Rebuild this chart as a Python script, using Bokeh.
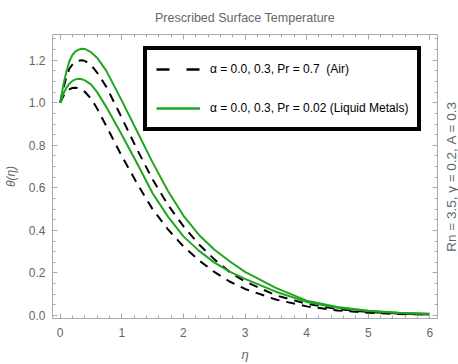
from bokeh.plotting import figure
from bokeh.layouts import row
from bokeh.models import LinearAxis, Legend, LegendItem, Range1d, FixedTicker, PrintfTickFormatter
from bokeh.embed import file_html
from bokeh.resources import INLINE

# data
eta = [0, 0.05, 0.1, 0.15, 0.2, 0.25, 0.3, 0.35, 0.4, 0.5, 0.6, 0.75, 1.0, 1.25, 1.5, 1.75,
       2.0, 2.25, 2.5, 2.75, 3.0, 3.5, 4.0, 4.5, 5.0, 5.5, 6.0]
air_a0 = [1.0, 1.03, 1.05, 1.063, 1.07, 1.071, 1.068, 1.061, 1.052, 1.02, 0.973, 0.89, 0.75, 0.62, 0.50, 0.405,
          0.325, 0.26, 0.205, 0.16, 0.125, 0.075, 0.043, 0.024, 0.013, 0.007, 0.004]
air_a3 = [1.0, 1.065, 1.12, 1.16, 1.18, 1.192, 1.198, 1.2, 1.197, 1.178, 1.142, 1.075, 0.93, 0.78, 0.64, 0.52,
          0.42, 0.335, 0.265, 0.205, 0.16, 0.095, 0.055, 0.03, 0.017, 0.009, 0.005]
lm_a0 = [1.0, 1.04, 1.07, 1.09, 1.103, 1.11, 1.113, 1.111, 1.105, 1.087, 1.05, 0.98, 0.85, 0.715, 0.575, 0.465,
         0.372, 0.305, 0.25, 0.206, 0.172, 0.112, 0.064, 0.037, 0.021, 0.012, 0.007]
lm_a3 = [1.0, 1.08, 1.145, 1.195, 1.225, 1.242, 1.25, 1.254, 1.253, 1.238, 1.212, 1.15, 1.01, 0.865, 0.72, 0.585,
         0.47, 0.38, 0.31, 0.255, 0.205, 0.13, 0.07, 0.04, 0.022, 0.013, 0.008]

x_ticks = [0, 1, 2, 3, 4, 5, 6]
y_ticks = [0.0, 0.2, 0.4, 0.6, 0.8, 1.0, 1.2]

title_text = "Prescribed Surface Temperature"
side_text = "Rn = 3.5, \u03b3 = 0.2, A = 0.3"
legend_air = "\u03b1 = 0.0, 0.3, Pr = 0.7  (Air)"
legend_lm = "\u03b1 = 0.0, 0.3, Pr = 0.02 (Liquid Metals)"

FONT = "Liberation Sans"
GRAY = "#666666"
AXC = "#aaaaaa"
GREEN = "#1fa51f"
NAN = float("nan")

p = figure(width=440, height=364, x_range=Range1d(-0.124, 6.124), y_range=Range1d(-0.014, 1.321),
           output_backend="svg", toolbar_location=None,
           min_border_left=49, min_border_right=3, min_border_top=34, min_border_bottom=44)
p.outline_line_color = None
p.xgrid.visible = False
p.ygrid.visible = False
p.background_fill_color = "white"
p.border_fill_color = "white"

r_air0 = p.line(eta, air_a0, line_color="black", line_width=2, line_dash="9 7")
r_air3 = p.line(eta, air_a3, line_color="black", line_width=2, line_dash="9 7")
r_lm0 = p.line(eta, lm_a0, line_color=GREEN, line_width=2)
r_lm3 = p.line(eta, lm_a3, line_color=GREEN, line_width=2)

# legend proxies (no visible data; legend-sized dashes)
leg_air = p.line([NAN], [NAN], line_color="black", line_width=2.5, line_dash="13 17")
leg_lm = p.line([NAN], [NAN], line_color=GREEN, line_width=2.5)

def style(ax, labels=True):
    ax.axis_line_color = AXC
    ax.major_tick_line_color = AXC
    ax.minor_tick_line_color = AXC
    ax.major_tick_in = 5
    ax.major_tick_out = 0
    ax.minor_tick_in = 3
    ax.minor_tick_out = 0
    ax.major_label_text_font = FONT
    ax.major_label_text_font_size = "12px"
    ax.major_label_text_color = GRAY
    ax.axis_label_text_font = FONT
    ax.axis_label_text_color = GRAY
    ax.axis_label_text_font_style = "normal"
    if not labels:
        ax.major_label_text_font_size = "1px"
        ax.major_label_text_color = None
        ax.major_label_standoff = 0

xt = FixedTicker(ticks=x_ticks, minor_ticks=[i * 0.2 for i in range(0, 31)])
yt = FixedTicker(ticks=y_ticks, minor_ticks=[i * 0.05 for i in range(0, 27)])

xa = p.xaxis[0]
xa.ticker = xt
style(xa)
xa.major_label_standoff = 9
xa.axis_label = "\u03b7"
xa.axis_label_text_font_style = "italic"
xa.axis_label_text_font_size = "13px"
xa.axis_label_standoff = 7

ya = p.yaxis[0]
ya.ticker = yt
ya.formatter = PrintfTickFormatter(format="%.1f")
style(ya)
ya.major_label_standoff = 7
ya.axis_label = "\u03b8(\u03b7)"
ya.axis_label_text_font_style = "italic"
ya.axis_label_text_font_size = "12px"
ya.axis_label_standoff = 8

top = LinearAxis(ticker=xt, axis_label=title_text)
style(top, labels=False)
top.axis_label_text_font_size = "12.5px"
top.axis_label_standoff = 10
p.add_layout(top, "above")

right = LinearAxis(ticker=yt)
style(right, labels=False)
p.add_layout(right, "right")

legend = Legend(items=[LegendItem(label=legend_air, renderers=[leg_air]),
                       LegendItem(label=legend_lm, renderers=[leg_lm])],
                location=(91, 187), orientation="vertical",
                border_line_color="black", border_line_width=4, border_line_alpha=1,
                background_fill_color="white", background_fill_alpha=1,
                padding=9, spacing=19, margin=0,
                glyph_width=44, glyph_height=20, label_height=20,
                label_standoff=10,
                label_text_font=FONT, label_text_font_size="12px",
                label_text_color="black")
p.add_layout(legend, "center")

# narrow side strip carrying the rotated parameter note (reads bottom to top)
q = figure(width=18, height=364, x_range=Range1d(0, 1), y_range=Range1d(0, 1),
           output_backend="svg", toolbar_location=None,
           min_border_left=17, min_border_right=0, min_border_top=34, min_border_bottom=44)
q.outline_line_color = None
q.xgrid.visible = False
q.ygrid.visible = False
q.xaxis.visible = False
q.background_fill_color = "white"
q.border_fill_color = "white"
qa = q.yaxis[0]
qa.axis_line_color = None
qa.major_tick_line_color = None
qa.minor_tick_line_color = None
qa.major_tick_in = 0
qa.major_tick_out = 0
qa.minor_tick_in = 0
qa.minor_tick_out = 0
qa.major_label_text_font_size = "1px"
qa.major_label_text_color = None
qa.major_label_standoff = 0
qa.axis_label = side_text
qa.axis_label_text_font = FONT
qa.axis_label_text_font_size = "13.5px"
qa.axis_label_text_color = GRAY
qa.axis_label_text_font_style = "normal"
qa.axis_label_standoff = 0

layout = row(p, q, spacing=0)
open("out.html", "w").write(file_html(layout, INLINE))
